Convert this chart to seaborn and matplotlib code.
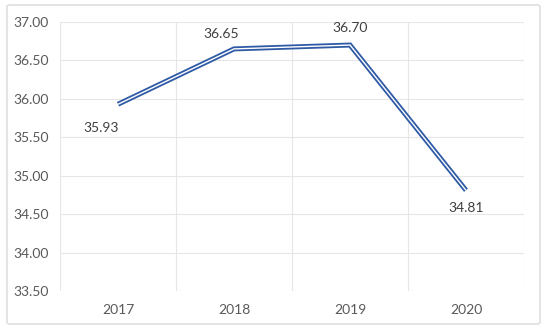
import matplotlib
matplotlib.use("Agg")
import matplotlib.pyplot as plt
from matplotlib.patches import FancyBboxPatch
from matplotlib.ticker import FixedLocator
import pandas as pd
import seaborn as sns

# data
years = ["2017", "2018", "2019", "2020"]
values = [35.93, 36.65, 36.70, 34.81]
y_ticks = [33.50, 34.00, 34.50, 35.00, 35.50, 36.00, 36.50, 37.00]
# label offsets (points) as Excel placed them
label_offsets = [(-12, -17), (-9, 11), (0, 12), (0, -13)]

df = pd.DataFrame({"year": years, "value": values})

sns.set_style("white")
plt.rcParams["font.family"] = ["Lato", "DejaVu Sans"]

fig = plt.figure(figsize=(5.5, 3.33), dpi=100)
ax = fig.add_axes([60 / 550, 1 - 291 / 333, (524 - 60) / 550, (291 - 22) / 333])

# double compound line: thick blue with thin white core
sns.lineplot(data=df, x="year", y="value", ax=ax, color="#2F5AA6",
             linewidth=3.6, sort=False, zorder=3,
             solid_capstyle="butt", solid_joinstyle="miter")
sns.lineplot(data=df, x="year", y="value", ax=ax, color="white",
             linewidth=1.0, sort=False, zorder=4,
             solid_capstyle="butt", solid_joinstyle="miter")

for i, (v, off) in enumerate(zip(values, label_offsets)):
    ax.annotate(f"{v:.2f}", (i, v), xytext=off, textcoords="offset points",
                ha="center", va="center", fontsize=10, color="#404040")

ax.set_xlim(-0.5, len(years) - 0.5)
ax.set_ylim(33.5, 37.0)
ax.yaxis.set_major_locator(FixedLocator(y_ticks))
ax.set_yticklabels([f"{t:.2f}" for t in y_ticks])
ax.xaxis.set_minor_locator(FixedLocator([i - 0.5 for i in range(len(years) + 1)]))

ax.grid(axis="y", which="major", color="#e6e6e6", linewidth=0.8)
ax.grid(axis="x", which="minor", color="#e6e6e6", linewidth=0.8)
ax.tick_params(axis="both", which="both", length=0, labelsize=10,
               labelcolor="#595959")
ax.tick_params(axis="x", pad=9)
ax.tick_params(axis="y", pad=8)
for s in ax.spines.values():
    s.set_visible(False)
ax.set_xlabel("")
ax.set_ylabel("")

# outer chart frame
frame = FancyBboxPatch((7 / 550, 1 - 324 / 333), (540 - 7) / 550, (324 - 5) / 333,
                       boxstyle="round,pad=0,rounding_size=0.005",
                       transform=fig.transFigure, fill=False,
                       edgecolor="#d9d9d9", linewidth=1.0)
fig.patches.append(frame)

fig.savefig("out.png", dpi=100)
